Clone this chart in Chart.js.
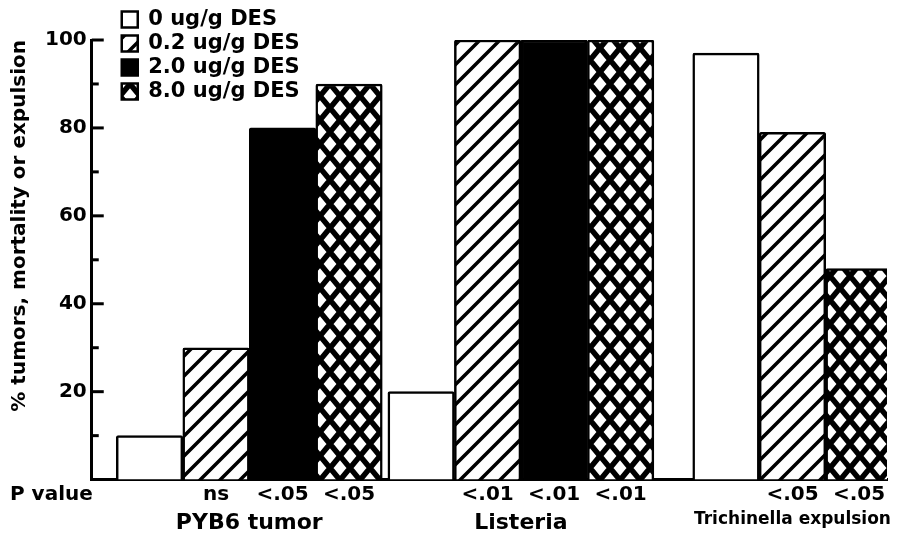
<!DOCTYPE html>
<html>
<head>
<meta charset="utf-8">
<script src="https://cdn.jsdelivr.net/npm/chart.js@4.4.1/dist/chart.umd.min.js"></script>
<style>
  html, body { margin: 0; padding: 0; background: #fff; }
  #wrap { width: 917px; height: 541px; position: relative; }
</style>
</head>
<body>
<div id="wrap"><canvas id="grafico"></canvas></div>
<script>
// dados
const categories = ['PYB6 tumor', 'Listeria', 'Trichinella expulsion'];
const seriesLabels = ['0 ug/g DES', '0.2 ug/g DES', '2.0 ug/g DES', '8.0 ug/g DES'];
const des0 = [10, 20, 97];
const des02 = [30, 100, 79];
const des20 = [80, 100, null];
const des80 = [90, 100, 48];
const p0 = [null, null, null];
const p02 = ['ns', '<.01', '<.05'];
const p20 = ['<.05', '<.01', null];
const p80 = ['<.05', '<.01', '<.05'];
const yTicks = [20, 40, 60, 80, 100];

const FONT = "'DejaVu Sans', sans-serif";
Chart.defaults.font.family = FONT;
Chart.defaults.font.weight = 'bold';
Chart.defaults.color = '#000';

// padroes das barras
function hatch() {
    const c = document.createElement('canvas');
    c.width = 20; c.height = 20;
    const g = c.getContext('2d');
    g.fillStyle = '#fff';
    g.fillRect(0, 0, 20, 20);
    g.strokeStyle = '#000';
    g.lineWidth = 3.5;
    g.beginPath();
    g.moveTo(-2, 22); g.lineTo(22, -2);
    g.moveTo(-12, 12); g.lineTo(12, -12);
    g.moveTo(8, 32); g.lineTo(32, 8);
    g.stroke();
    return g.createPattern(c, 'repeat');
}

function crossHatch() {
    const w = 20, h = 24;
    const c = document.createElement('canvas');
    c.width = w; c.height = h;
    const g = c.getContext('2d');
    g.fillStyle = '#fff';
    g.fillRect(0, 0, w, h);
    g.strokeStyle = '#000';
    g.lineWidth = 5.5;
    g.beginPath();
    g.moveTo(-w, -h); g.lineTo(2 * w, 2 * h);
    g.moveTo(2 * w, -h); g.lineTo(-w, 2 * h);
    g.moveTo(0, -h); g.lineTo(2 * w, h);
    g.moveTo(-w, 0); g.lineTo(w, 2 * h);
    g.moveTo(w, -h); g.lineTo(-w, h);
    g.moveTo(2 * w, 0); g.lineTo(0, 2 * h);
    g.stroke();
    return g.createPattern(c, 'repeat');
}

const toPoints = (arr) => arr.map((v, i) => ({ x: i, y: v }));

const fills = ['#ffffff', hatch(), '#000000', crossHatch()];
const series = [des0, des02, des20, des80];
const pRows = [p0, p02, p20, p80];

const pValuePlugin = {
    id: 'pValues',
    afterDraw(chart) {
        const { ctx, chartArea } = chart;
        const y = chartArea.bottom + 15;
        ctx.save();
        ctx.font = 'bold 20px ' + FONT;
        ctx.fillStyle = '#000';
        ctx.textBaseline = 'middle';
        ctx.textAlign = 'left';
        ctx.fillText('P value', 10, y);
        ctx.textAlign = 'center';
        pRows.forEach((row, d) => {
            const meta = chart.getDatasetMeta(d);
            row.forEach((txt, i) => {
                if (txt && meta.data[i]) ctx.fillText(txt, meta.data[i].x, y);
            });
        });
        ctx.restore();
    }
};

// tracos do eixo y para dentro
const innerTicks = {
    id: 'innerTicks',
    afterDraw(chart) {
        const { ctx, chartArea } = chart;
        const ys = chart.scales.y;
        ctx.save();
        ctx.strokeStyle = '#000';
        ctx.lineWidth = 3;
        ys.ticks.forEach(t => {
            if (t.value === 0) return;
            const len = t.value % 20 === 0 ? 12 : 7;
            const y = ys.getPixelForValue(t.value);
            ctx.beginPath();
            ctx.moveTo(chartArea.left, y);
            ctx.lineTo(chartArea.left + len, y);
            ctx.stroke();
        });
        ctx.restore();
    }
};

// legenda no canto superior esquerdo
const legendSpot = {
    id: 'legendSpot',
    afterLayout(chart) {
        const lg = chart.legend;
        const w = lg.width, h = lg.height;
        lg.left = chart.chartArea.left + 27;
        lg.right = lg.left + w;
        lg.top = 6;
        lg.bottom = lg.top + h;
    }
};

new Chart(document.getElementById('grafico'), {
    type: 'bar',
    data: {
        datasets: series.map((s, i) => ({
            label: seriesLabels[i],
            data: toPoints(s),
            backgroundColor: fills[i],
            borderColor: '#000',
            borderWidth: 2.5,
            borderRadius: 2,
            borderSkipped: 'start',
            barThickness: 66.5,
            skipNull: true
        }))
    },
    options: {
        responsive: true,
        maintainAspectRatio: false,
        animation: false,
        layout: { padding: { top: 40, right: 30, bottom: -25, left: 4 } },
        plugins: {
            legend: {
                position: 'chartArea',
                align: 'start',
                labels: {
                    boxWidth: 16,
                    boxHeight: 16,
                    padding: 3,
                    color: '#000',
                    font: { size: 21, weight: 'bold' }
                }
            },
            tooltip: { enabled: false }
        },
        scales: {
            x: {
                type: 'linear',
                min: -0.58,
                max: 2.348,
                offset: false,
                afterBuildTicks: (s) => { s.ticks = categories.map((c, i) => ({ value: i })); },
                afterFit: (s) => { s.paddingLeft = 0; s.paddingRight = 0; },
                grid: { display: false, drawTicks: false },
                border: { display: true, color: '#000', width: 3 },
                ticks: {
                    autoSkip: false,
                    maxRotation: 0,
                    padding: 30,
                    color: '#000',
                    callback: (v) => categories[v],
                    font: (c) => ({ size: c.index === 2 ? 17 : 22, weight: 'bold' })
                }
            },
            y: {
                min: 0,
                max: 100,
                grid: { display: false, drawTicks: false },
                border: { display: true, color: '#000', width: 3 },
                ticks: {
                    stepSize: 10,
                    padding: 5,
                    color: '#000',
                    font: { size: 20, weight: 'bold' },
                    callback: (v) => yTicks.includes(v) ? v : ''
                },
                title: {
                    display: true,
                    text: '% tumors, mortality or expulsion',
                    align: 'end',
                    color: '#000',
                    padding: { top: 4, bottom: 8 },
                    font: { size: 20, weight: 'bold' }
                }
            }
        }
    },
    plugins: [pValuePlugin, innerTicks, legendSpot]
});
</script>
</body>
</html>
